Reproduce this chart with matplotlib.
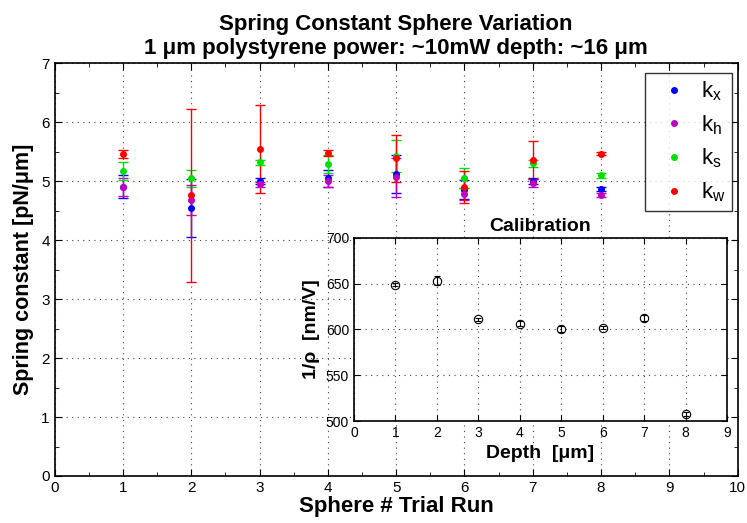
import matplotlib
matplotlib.use("Agg")
import matplotlib.pyplot as plt
from matplotlib.lines import Line2D
from matplotlib.ticker import MultipleLocator

plt.rcParams['font.family'] = ['Liberation Sans', 'DejaVu Sans']
plt.rcParams['mathtext.fontset'] = 'custom'
plt.rcParams['mathtext.rm'] = 'Liberation Sans'
plt.rcParams['mathtext.it'] = 'Liberation Sans'

# Sphere trial runs
spheres = [1, 2, 3, 4, 5, 6, 7, 8]

kx = [4.91, 4.55, 5.01, 5.05, 5.13, 4.86, 5.01, 4.87]
kx_err = [0.19, 0.49, 0.05, 0.14, 0.32, 0.16, 0.05, 0.03]
kh = [4.90, 4.68, 4.95, 5.00, 5.07, 4.78, 4.97, 4.77]
kh_err = [0.15, 0.25, 0.04, 0.10, 0.33, 0.10, 0.07, 0.03]
ks = [5.18, 5.05, 5.32, 5.29, 5.43, 5.06, 5.31, 5.10]
ks_err = [0.15, 0.14, 0.05, 0.15, 0.27, 0.17, 0.06, 0.04]
kw = [5.46, 4.76, 5.55, 5.48, 5.39, 4.91, 5.36, 5.47]
kw_err = [0.07, 1.47, 0.75, 0.05, 0.40, 0.27, 0.32, 0.02]

# Calibration inset
depth = [1, 2, 3, 4, 5, 6, 7, 8]
inv_rho = [649, 653.5, 611, 606.5, 600.5, 602, 612.5, 508]
inv_rho_err = [2, 5, 2, 3, 3, 2, 3, 2]

series = [
    (kx, kx_err, 'blue', r'$\mathregular{k_x}$'),
    (kh, kh_err, '#c000c0', r'$\mathregular{k_h}$'),
    (ks, ks_err, '#00e000', r'$\mathregular{k_s}$'),
    (kw, kw_err, 'red', r'$\mathregular{k_w}$'),
]

fig = plt.figure(figsize=(7.47, 5.23), dpi=100)
ax = fig.add_axes([0.0732, 0.0899, 0.9143, 0.7887])

handles = []
for vals, errs, col, lab in series:
    ax.errorbar(spheres, vals, yerr=errs, fmt='o', color=col, ms=4,
                capsize=3.8, elinewidth=1, capthick=1)
    handles.append(Line2D([], [], ls='none', marker='o', color=col, ms=4, label=lab))

ax.set_xlim(0, 10)
ax.set_ylim(0, 7)
ax.xaxis.set_major_locator(MultipleLocator(1))
ax.yaxis.set_major_locator(MultipleLocator(1))
ax.xaxis.set_minor_locator(MultipleLocator(0.5))
ax.yaxis.set_minor_locator(MultipleLocator(0.5))
ax.tick_params(which='both', direction='in', top=True, right=True, labelsize=11)
ax.tick_params(which='major', length=5)
ax.tick_params(which='minor', length=3)
ax.grid(True, which='major', ls=(0, (1, 4)), color='#444444', lw=0.8)
for s in ax.spines.values():
    s.set_linewidth(1.2)

ax.set_xlabel('Sphere # Trial Run', fontsize=16, fontweight='bold', labelpad=1)
ax.set_ylabel('Spring constant [pN/μm]', fontsize=15.5, fontweight='bold', labelpad=5)
ax.set_title('Spring Constant Sphere Variation\n1 μm polystyrene power: ~10mW depth: ~16 μm',
             fontsize=16, fontweight='bold', pad=7)

leg = ax.legend(handles=handles, loc='upper right', fontsize=16, frameon=True,
                fancybox=False, edgecolor='black', labelspacing=0.45,
                handlelength=2, handletextpad=0.2, borderpad=0.3, borderaxespad=0,
                bbox_to_anchor=(0.9917, 0.977))
leg.get_frame().set_linewidth(1.0)

# inset
axi = fig.add_axes([0.4739, 0.195, 0.4993, 0.35])
axi.errorbar(depth, inv_rho, yerr=inv_rho_err, fmt='o', color='black',
             mfc='none', ms=6, capsize=2, elinewidth=0.8, mew=0.8)
axi.set_xlim(0, 9)
axi.set_ylim(500, 700)
axi.xaxis.set_major_locator(MultipleLocator(1))
axi.yaxis.set_major_locator(MultipleLocator(50))
axi.tick_params(direction='in', top=True, right=True, labelsize=10, length=4)
axi.grid(True, ls=(0, (1, 4)), color='#444444', lw=0.8)
for s in axi.spines.values():
    s.set_linewidth(1.2)
axi.set_title('Calibration', fontsize=14, fontweight='bold', pad=5)
axi.set_xlabel('Depth  [μm]', fontsize=14, fontweight='bold', labelpad=4)
axi.set_ylabel('1/ρ  [nm/V]', fontsize=14, fontweight='bold', labelpad=4)

fig.savefig('out.png', dpi=100)
